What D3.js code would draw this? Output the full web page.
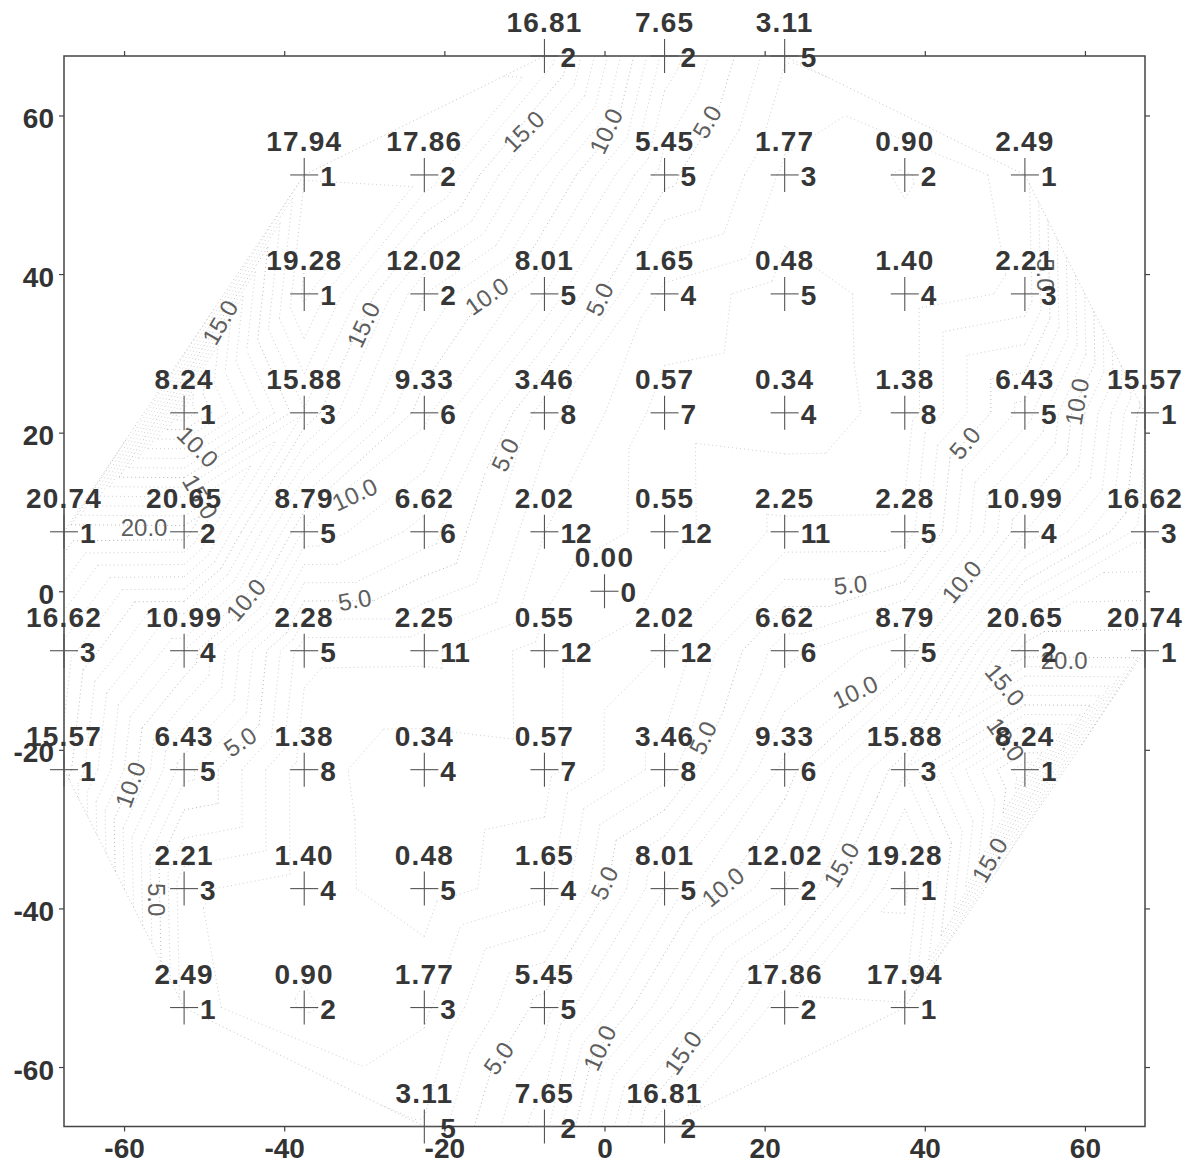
<!DOCTYPE html>
<html><head><meta charset="utf-8">
<script src="https://cdn.jsdelivr.net/npm/d3@7"></script>
<style>body{margin:0;background:#fff}</style>
</head><body><svg id="chart" width="1193" height="1166"></svg>
<script>
// ---- data ----
const gridX = [-67.5,-52.5,-37.5,-22.5,-7.5,7.5,22.5,37.5,52.5,67.5];
const gridY = [67.5,52.5,37.5,22.5,7.5,-7.5,-22.5,-37.5,-52.5,-67.5];
const values = [
 [null,null,null,null,16.81,7.65,3.11,null,null,null],
 [null,null,17.94,17.86,null,5.45,1.77,0.90,2.49,null],
 [null,null,19.28,12.02,8.01,1.65,0.48,1.40,2.21,null],
 [null,8.24,15.88,9.33,3.46,0.57,0.34,1.38,6.43,15.57],
 [20.74,20.65,8.79,6.62,2.02,0.55,2.25,2.28,10.99,16.62],
 [16.62,10.99,2.28,2.25,0.55,2.02,6.62,8.79,20.65,20.74],
 [15.57,6.43,1.38,0.34,0.57,3.46,9.33,15.88,8.24,null],
 [null,2.21,1.40,0.48,1.65,8.01,12.02,19.28,null,null],
 [null,2.49,0.90,1.77,5.45,null,17.86,17.94,null,null],
 [null,null,null,3.11,7.65,16.81,null,null,null,null]
];
const counts = [
 [null,null,null,null,2,2,5,null,null,null],
 [null,null,1,2,null,5,3,2,1,null],
 [null,null,1,2,5,4,5,4,3,null],
 [null,1,3,6,8,7,4,8,5,1],
 [1,2,5,6,12,12,11,5,4,3],
 [3,4,5,11,12,12,6,5,2,1],
 [1,5,8,4,7,8,6,3,1,null],
 [null,3,4,5,4,5,2,1,null,null],
 [null,1,2,3,5,null,2,1,null,null],
 [null,null,null,5,2,2,null,null,null,null]
];
const centerX = [0];
const centerY = [0];
const centerValue = [0.00];
const centerCount = [0];
const xTicks = [-60,-40,-20,0,20,40,60];
const yTicks = [-60,-40,-20,0,20,40,60];
const contourLevels = [1,2,3,4,5,6,7,8,9,10,11,12,13,14,15,16,17,18,19,20];
// contour label annotations: text, x, y (data units), rotation
const contourLabelText = ["15.0","10.0","5.0","15.0","15.0","10.0","5.0","5.0","10.0","5.0","10.0","5.0","10.0","20.0","15.0","10.0","5.0","5.0","10.0","20.0","15.0","10.0","10.0","5.0","5.0","10.0","5.0","5.0","10.0","15.0","15.0","5.0","10.0","15.0"];
const contourLabelX = [-10.1,0.2,12.8,-48.0,-30.1,-14.7,-0.6,55.0,59.0,45.0,-50.8,-12.4,-31.2,-57.5,-50.5,-44.8,-31.2,30.7,44.6,57.4,50.0,31.3,50.1,-45.5,12.3,-59.2,-55.9,0,14.8,29.6,48.1,-13.2,-0.6,9.8];
const contourLabelY = [58.0,58.0,59.2,33.9,33.6,37.2,36.8,39.9,23.9,18.7,18.2,17.2,12.2,8.0,11.9,-1.1,-1.1,0.8,1.2,-8.8,-11.8,-12.7,-18.7,-19.0,-18.5,-24.4,-38.9,-36.8,-37.3,-34.5,-33.9,-58.9,-57.6,-58.2];
const contourLabelAngle = [-45,-65,-60,-60,-65,-35,-65,90,-80,-50,45,-65,-25,0,60,-50,-10,-5,-50,0,50,-25,55,-35,-65,-70,90,-65,-40,-60,-60,-55,-65,-55];

// ---- chart ----
const svg = d3.select("#chart");
svg.append("rect").attr("width",1193).attr("height",1166).attr("fill","#fff");
const x = d3.scaleLinear().domain([-67.5,67.5]).range([64,1145]);
const y = d3.scaleLinear().domain([-67.5,67.5]).range([1126.5,56]);
const fmt = d3.format(".2f");
const FONT = "'Liberation Sans', Arial, sans-serif";

const pts = [];
values.forEach((row,r)=>row.forEach((v,c)=>{
  if (v!==null) pts.push({x:gridX[c], y:gridY[r], v:v, n:counts[r][c]});
}));
centerX.forEach((cx,i)=>pts.push({x:cx, y:centerY[i], v:centerValue[i], n:centerCount[i]}));

// contours via Delaunay triangulation (linear interpolation in triangles)
const delaunay = d3.Delaunay.from(pts, d=>d.x, d=>d.y);
const tri = delaunay.triangles;
const gC = svg.append("g");
function ip(a,b,t){ const f=(t-a.v)/(b.v-a.v); return [a.x+f*(b.x-a.x), a.y+f*(b.y-a.y)]; }
contourLevels.forEach(t=>{
  const path = d3.path();
  for (let i=0;i<tri.length;i+=3){
    const p=[pts[tri[i]],pts[tri[i+1]],pts[tri[i+2]]];
    const cr=[];
    for (let k=0;k<3;k++){ const a=p[k], b=p[(k+1)%3]; if ((a.v<t)!==(b.v<t)) cr.push(ip(a,b,t)); }
    if (cr.length===2){ path.moveTo(x(cr[0][0]),y(cr[0][1])); path.lineTo(x(cr[1][0]),y(cr[1][1])); }
  }
  gC.append("path").attr("d",path.toString()).attr("fill","none")
    .attr("stroke",t%5===0?"#b8b8b8":"#cfcfcf").attr("stroke-width",1)
    .attr("stroke-dasharray","1,3");
});
// hull boundary
const hullPts = Array.from(delaunay.hull, i=>pts[i]);
gC.append("path").attr("d", d3.line().x(d=>x(d.x)).y(d=>y(d.y)).curve(d3.curveLinearClosed)(hullPts))
  .attr("fill","none").attr("stroke","#c4c4c4").attr("stroke-width",1).attr("stroke-dasharray","1,3");

// contour labels
svg.append("g").selectAll("text").data(contourLabelText).join("text")
  .attr("transform",(d,i)=>`translate(${x(contourLabelX[i])},${y(contourLabelY[i])}) rotate(${contourLabelAngle[i]})`)
  .attr("text-anchor","middle").attr("dy","0.35em")
  .attr("font-family",FONT).attr("font-size",24)
  .attr("fill","#5e5e5e").text(d=>d);

// frame
svg.append("rect").attr("x",x(-67.5)).attr("y",y(67.5))
  .attr("width",x(67.5)-x(-67.5)).attr("height",y(-67.5)-y(67.5))
  .attr("fill","none").attr("stroke","#444").attr("stroke-width",1.5);

// axes
const tf = d => String(d);
function styleAxis(g){
  g.select(".domain").remove();
  g.selectAll(".tick line").attr("stroke","#444").attr("stroke-width",1.2);
  g.selectAll(".tick text").attr("fill","#333").attr("font-family",FONT)
   .attr("font-weight","bold").attr("font-size",28);
}
svg.append("g").attr("transform",`translate(0,${y(-67.5)})`)
  .call(d3.axisBottom(x).tickValues(xTicks).tickSize(5).tickPadding(7).tickFormat(tf)).call(styleAxis);
svg.append("g").attr("transform",`translate(${x(-67.5)},0)`)
  .call(d3.axisLeft(y).tickValues(yTicks).tickSize(5).tickPadding(5).tickFormat(tf)).call(styleAxis)
  .selectAll(".tick text").attr("dy","0.43em");
svg.append("g").attr("transform",`translate(0,${y(67.5)})`)
  .call(d3.axisTop(x).tickValues(xTicks).tickSize(5).tickFormat("")).call(styleAxis);
svg.append("g").attr("transform",`translate(${x(67.5)},0)`)
  .call(d3.axisRight(y).tickValues(yTicks).tickSize(5).tickFormat("")).call(styleAxis);

// points: crosses + labels
const gP = svg.append("g").selectAll("g").data(pts).join("g")
  .attr("transform",d=>`translate(${x(d.x)},${y(d.y)})`);
gP.append("line").attr("x1",-14).attr("x2",14).attr("stroke","#555").attr("stroke-width",1.1);
gP.append("line").attr("y1",-17).attr("y2",17).attr("stroke","#555").attr("stroke-width",1.1);
gP.append("text").attr("y",-24).attr("text-anchor","middle")
  .attr("font-family",FONT).attr("font-weight","bold").attr("font-size",28)
  .attr("letter-spacing","1.2px").attr("fill","#363636").text(d=>fmt(d.v));
gP.append("text").attr("x",16).attr("y",11)
  .attr("font-family",FONT).attr("font-weight","bold").attr("font-size",28)
  .attr("fill","#363636").text(d=>d.n);
</script></body></html>
